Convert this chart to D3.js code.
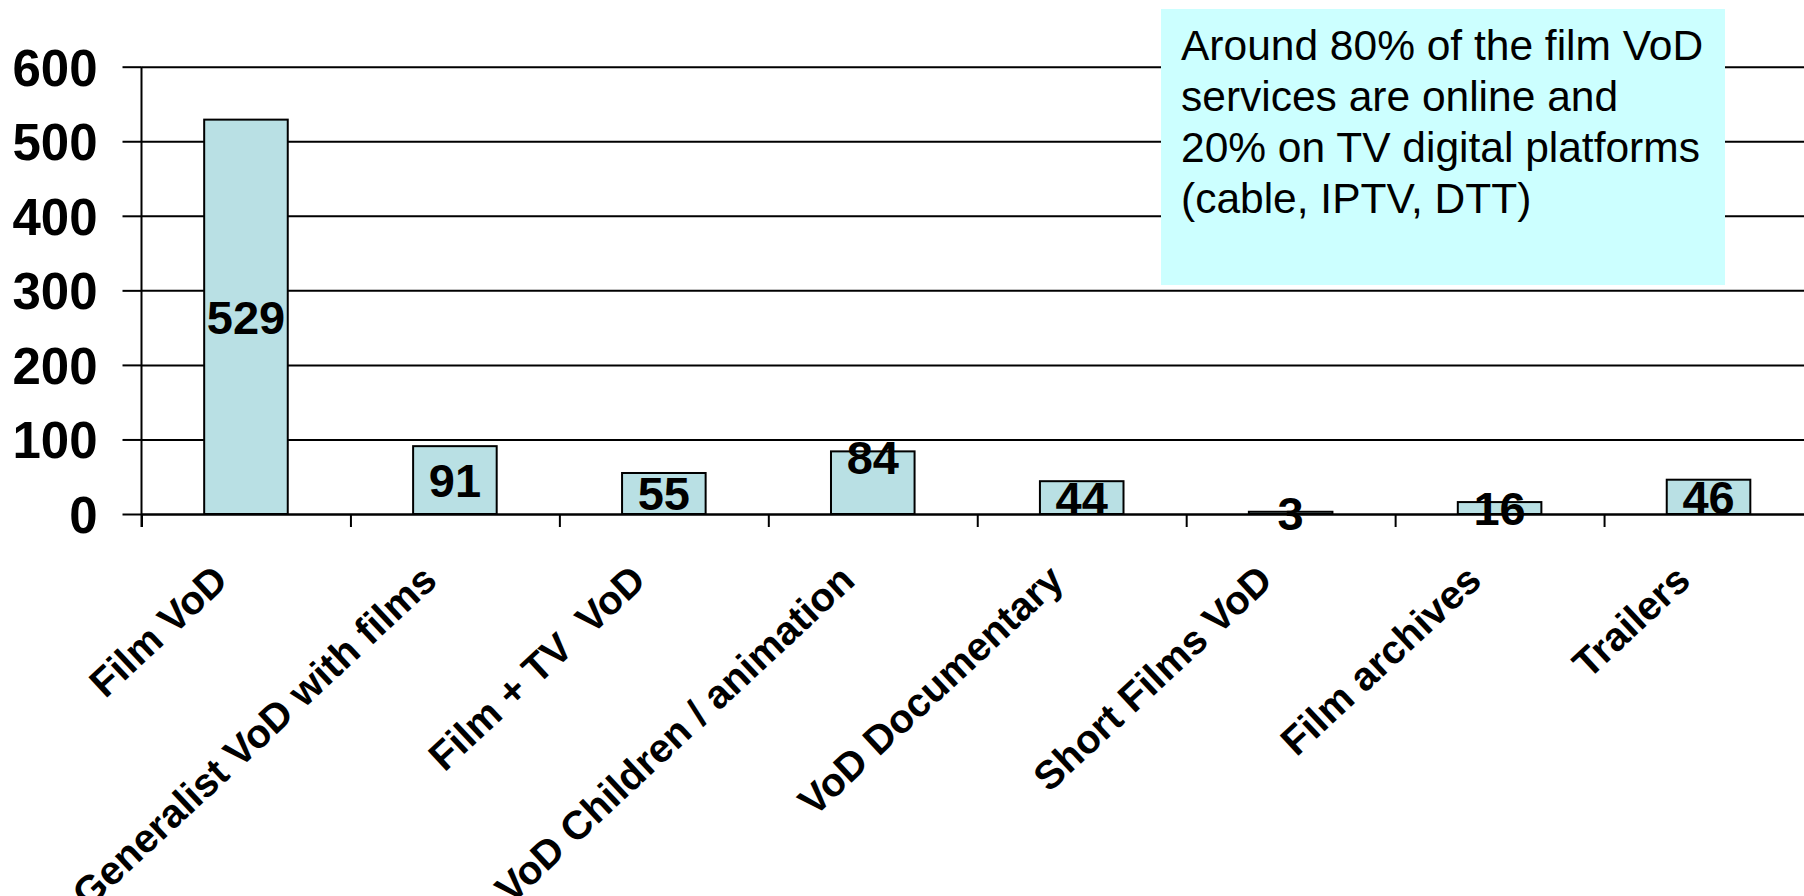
<!DOCTYPE html>
<html>
<head>
<meta charset="utf-8">
<script src="https://cdn.jsdelivr.net/npm/d3@7/dist/d3.min.js"></script>
<style>
  body { margin: 0; background: #fff; }
  svg { display: block; font-family: "Liberation Sans", Arial, sans-serif; }
  .axis text { font-weight: bold; fill: #000; }
  .axis line, .axis path { stroke: #000; stroke-width: 2px; }
  .grid line { stroke: #000; stroke-width: 2px; }
  .grid path { display: none; }
</style>
</head>
<body>
<div id="chart"></div>
<script>
var categories = ["Film VoD", "Generalist VoD with films", "Film + TV  VoD", "VoD Children / animation",
                  "VoD Documentary", "Short Films VoD", "Film archives", "Trailers"]
var values = [529, 91, 55, 84, 44, 3, 16, 46]
var yTicks = [0, 100, 200, 300, 400, 500, 600]
var noteLines = ["Around 80% of the film VoD", "services are online and",
                 "20% on TV digital platforms", "(cable, IPTV, DTT)"]

var W = 1804, H = 896
var plot = {left: 141.5, right: 1813, top: 66.7, bottom: 514}

// the "84" label was dragged up by hand in the original
var labelNudge = {"VoD Children / animation": -26}

var svg = d3.select("#chart").append("svg")
    .attr("width", W)
    .attr("height", H)

var x = d3.scaleBand()
    .domain(categories)
    .range([plot.left, plot.right])
    .paddingInner(0.6)
    .paddingOuter(0.3)

// category boundaries, for the tick marks
var xEdge = d3.scaleLinear()
    .domain([0, categories.length])
    .range([plot.left, plot.right])

var y = d3.scaleLinear()
    .domain([0, 600])
    .range([plot.bottom, plot.top])

// gridlines
svg.append("g")
    .attr("class", "grid")
    .attr("transform", "translate(" + plot.left + ",0)")
    .call(d3.axisLeft(y).tickValues(yTicks).tickSize(-(W - plot.left)).tickFormat(""))

// note box (sits over the gridlines)
var box = svg.append("g").attr("transform", "translate(1161,9)")
box.append("rect")
    .attr("width", 564)
    .attr("height", 276)
    .attr("fill", "#ccffff")
box.selectAll("text")
  .data(noteLines)
  .enter().append("text")
    .attr("x", 20)
    .attr("y", (d, i) => 51 + i * 51)
    .attr("font-size", "42.5px")
    .attr("fill", "#000")
    .text(d => d)

// y axis
svg.append("g")
    .attr("class", "axis y")
    .attr("transform", "translate(" + plot.left + ",0)")
    .call(d3.axisLeft(y).tickValues(yTicks).tickSize(19).tickSizeOuter(0).tickPadding(25))
    .call(g => g.select(".domain").attr("d", "M0," + plot.top + "V" + (plot.bottom + 13)))
    .selectAll("text")
      .attr("font-size", "51px")
      .attr("dy", "0.36em")

// bars
svg.selectAll(".bar")
  .data(values)
  .enter().append("rect")
    .attr("class", "bar")
    .attr("x", (d, i) => x(categories[i]))
    .attr("y", d => y(d))
    .attr("width", x.bandwidth())
    .attr("height", d => y(0) - y(d))
    .attr("fill", "#b9e0e4")
    .attr("stroke", "#000")
    .attr("stroke-width", 2)

// x axis
svg.append("g")
    .attr("class", "axis x")
    .attr("transform", "translate(0," + plot.bottom + ")")
    .call(d3.axisBottom(xEdge).tickValues(d3.range(categories.length)).tickSize(13).tickSizeOuter(0).tickFormat(""))

svg.append("g")
    .selectAll("text")
  .data(categories)
  .enter().append("text")
    .attr("transform", d => "translate(" + (x(d) + x.bandwidth() / 2 - 16) + ",583) rotate(-43)")
    .attr("text-anchor", "end")
    .attr("font-size", "40px")
    .attr("font-weight", "bold")
    .style("white-space", "pre")
    .attr("fill", "#000")
    .text(d => d)

// value labels, centred in each bar
svg.selectAll(".val")
  .data(values)
  .enter().append("text")
    .attr("class", "val")
    .attr("x", (d, i) => x(categories[i]) + x.bandwidth() / 2)
    .attr("y", (d, i) => (y(d) + y(0)) / 2 + (labelNudge[categories[i]] || 0))
    .attr("dy", "0.36em")
    .attr("text-anchor", "middle")
    .attr("font-size", "47px")
    .attr("font-weight", "bold")
    .attr("fill", "#000")
    .text(d => d)
</script>
</body>
</html>
